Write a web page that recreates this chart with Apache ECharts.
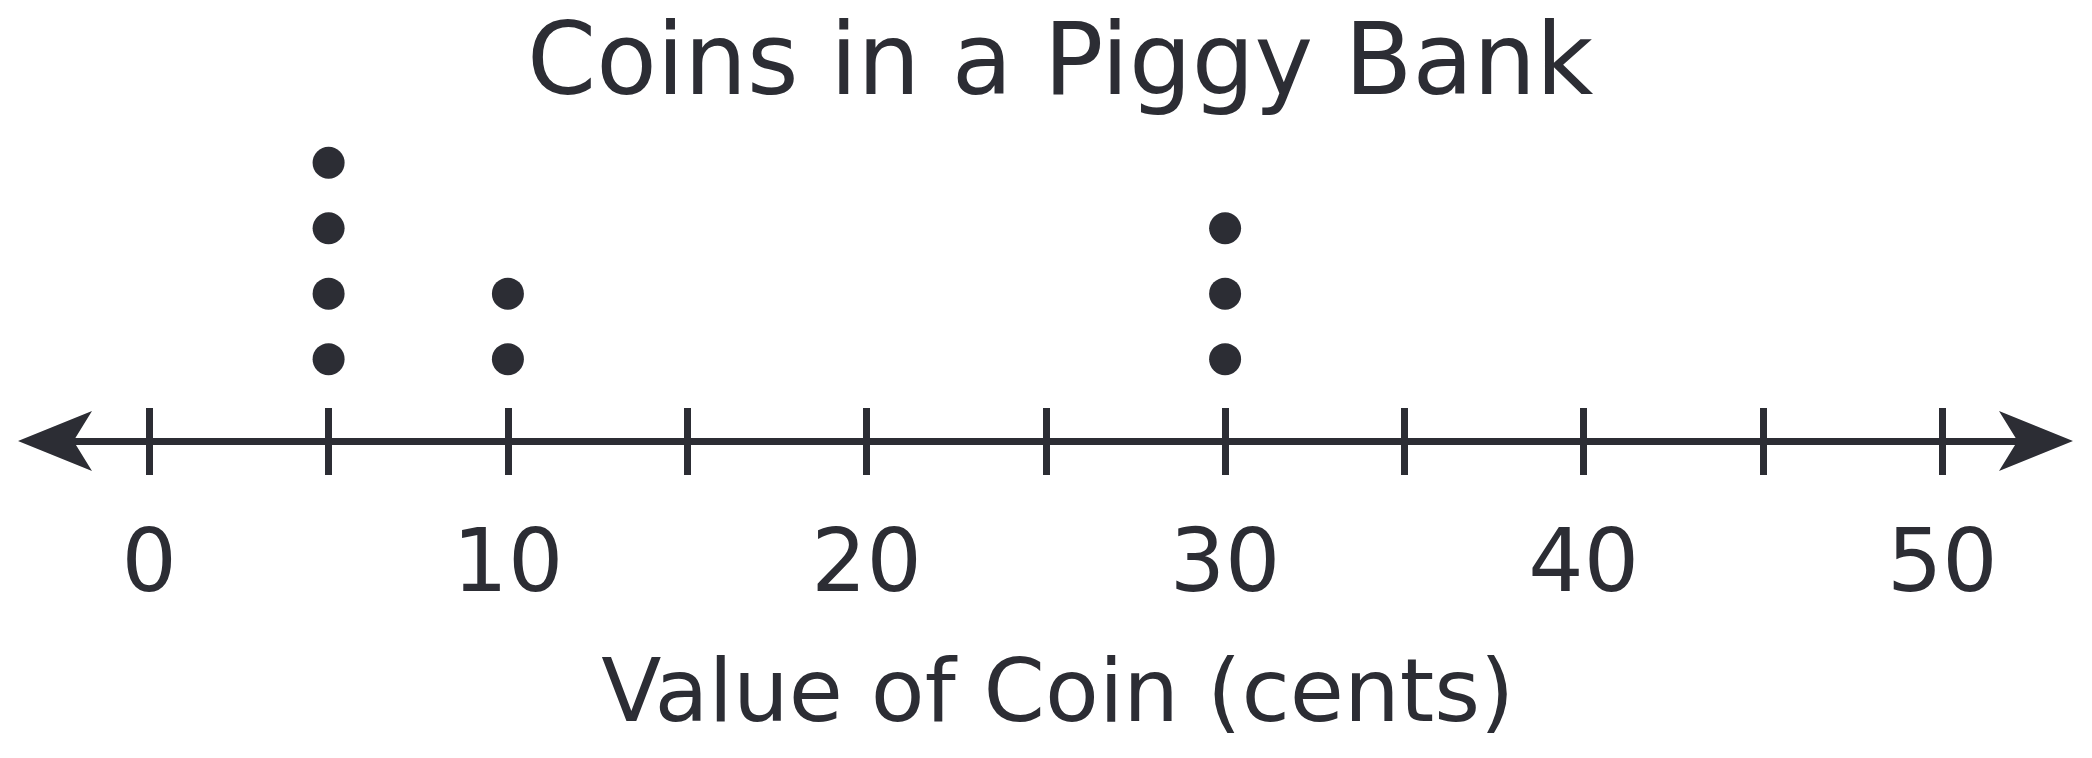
<!DOCTYPE html>
<html>
<head>
<meta charset="utf-8">
<script src="https://cdn.jsdelivr.net/npm/echarts@6/dist/echarts.min.js"></script>
<style>
html,body{margin:0;padding:0;background:#fff;}
#chart{width:2092px;height:758px;}
</style>
</head>
<body>
<div id="chart"></div>
<script>
// ---- data ----
const chartTitle = 'Coins in a Piggy Bank';
const axisTitle = 'Value of Coin (cents)';
const coinValues = [5, 10, 30];
const coinCounts = [4, 2, 3];
const tickLabels = [0, 10, 20, 30, 40, 50];
const axisMin = 0;
const axisMax = 50;
const tickStep = 5;

// ---- build dot stack points ----
const points = [];
coinValues.forEach(function (v, i) {
  for (let k = 1; k <= coinCounts[i]; k++) points.push([v, k]);
});

const ink = '#2c2d34';
const font = 'DejaVu Sans';

const chart = echarts.init(document.getElementById('chart'), null, {renderer: 'canvas'});
chart.setOption({
  animation: false,
  backgroundColor: '#ffffff',
  title: {
    text: chartTitle,
    left: 527,
    top: 19,
    padding: 0,
    textStyle: {fontFamily: font, fontSize: 99, fontWeight: 'normal', color: ink}
  },
  grid: [
    {left: 149.3, width: 1793, top: 130, bottom: 317},
    {left: 33, right: 34, top: 130, bottom: 317}
  ],
  xAxis: [
    {
      type: 'value', gridIndex: 0, min: axisMin, max: axisMax, interval: tickStep,
      position: 'bottom',
      axisLine: {show: false},
      axisTick: {show: false},
      splitLine: {show: false},
      axisLabel: {
        show: true, margin: 84,
        fontFamily: font, fontSize: 87, color: ink,
        formatter: function (v) { return tickLabels.indexOf(v) >= 0 ? String(v) : ''; }
      },
      name: axisTitle,
      nameLocation: 'middle',
      nameGap: 213,
      nameTextStyle: {fontFamily: font, fontSize: 88, color: ink, padding: [0, 0, 0, 24]}
    },
    {
      type: 'value', gridIndex: 0, min: axisMin, max: axisMax, interval: tickStep,
      position: 'bottom', offset: -33,
      axisLine: {show: false},
      axisTick: {show: true, inside: false, length: 67, lineStyle: {color: ink, width: 7}},
      splitLine: {show: false},
      axisLabel: {show: false}
    },
    {
      type: 'value', gridIndex: 1, min: 0, max: 1,
      position: 'bottom',
      axisLine: {
        show: true, symbol: ['arrow', 'arrow'], symbolSize: [45, 74], symbolOffset: [-15, 15],
        lineStyle: {color: ink, width: 7}
      },
      axisTick: {show: false},
      splitLine: {show: false},
      axisLabel: {show: false}
    }
  ],
  yAxis: [
    {type: 'value', gridIndex: 0, min: -0.25, max: 4.5, show: false, splitLine: {show: false}},
    {type: 'value', gridIndex: 1, min: 0, max: 1, show: false, splitLine: {show: false}}
  ],
  series: [
    {
      type: 'scatter',
      xAxisIndex: 0, yAxisIndex: 0,
      symbol: 'circle',
      symbolSize: 32,
      itemStyle: {color: ink, opacity: 1},
      data: points,
      z: 5
    }
  ]
});
</script>
</body>
</html>
